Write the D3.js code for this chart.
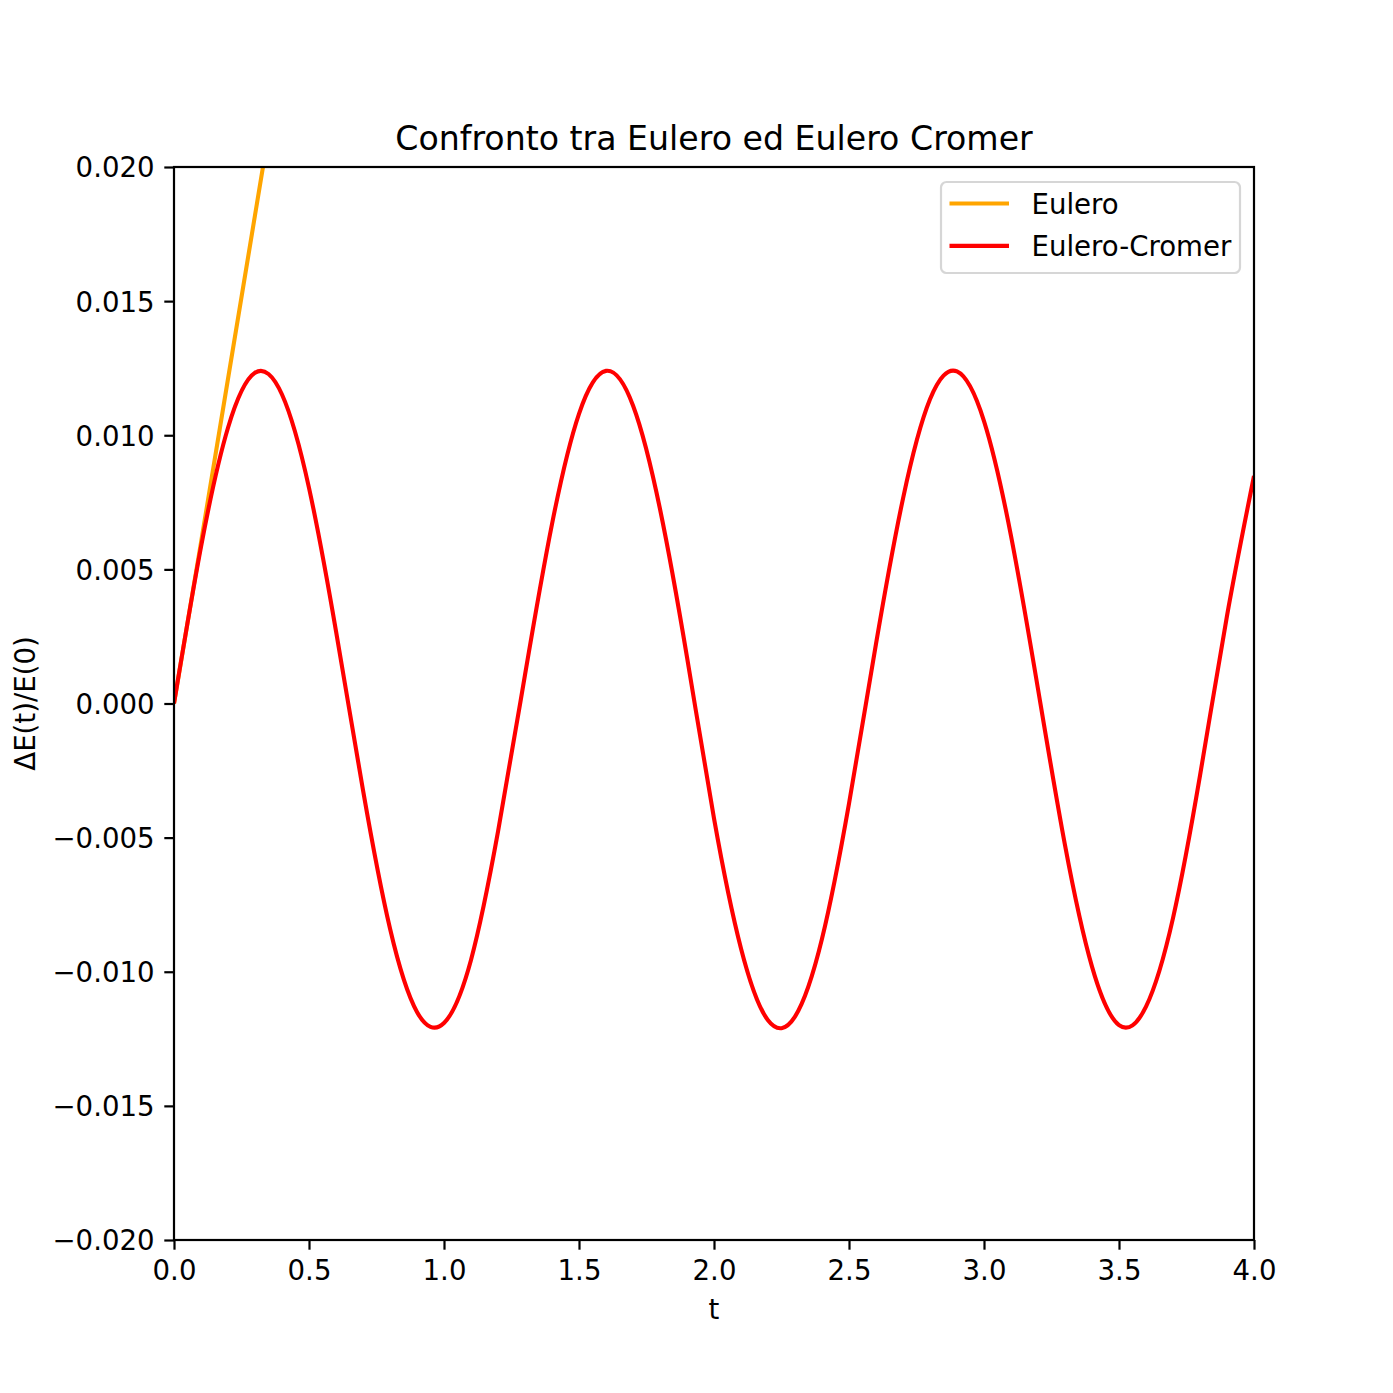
<!DOCTYPE html>
<html>
<head>
<meta charset="utf-8">
<script src="https://cdn.jsdelivr.net/npm/d3@7"></script>
<style>
  body { margin: 0; background: #fff; }
  text { font-family: "DejaVu Sans", sans-serif; fill: #000; }
</style>
</head>
<body>
<div id="chart"></div>
<script>
// time samples (s) and relative energy error
var tEC = [0.0, 0.1, 0.2, 0.3, 0.4, 0.5, 0.6, 0.7, 0.8, 0.9,
           1.0, 1.1, 1.2, 1.3, 1.4, 1.5, 1.6, 1.7, 1.8, 1.9,
           2.0, 2.1, 2.2, 2.3, 2.4, 2.5, 2.6, 2.7, 2.8, 2.9,
           3.0, 3.1, 3.2, 3.3, 3.4, 3.5, 3.6, 3.7, 3.8, 3.9, 4.0];
var eulCromer = [0.00000, 0.00584, 0.01028, 0.01233, 0.01152, 0.00804, 0.00270, -0.00323, -0.00839, -0.01150,
                 -0.01191, -0.00956, -0.00478, 0.00107, 0.00669, 0.01080, 0.01240, 0.01111, 0.00725, 0.00173,
                 -0.00428, -0.00913, -0.01181, -0.01167, -0.00877, -0.00373, 0.00222, 0.00764, 0.01134, 0.01238,
                 0.01053, 0.00625, 0.00054, -0.00528, -0.00981, -0.01199, -0.01130, -0.00800, -0.00269, 0.00327, 0.00848];

// Euler leaves the plot almost at once
var tE = [0.0, 0.1, 0.2, 0.3, 0.4];
var eulero = [0.0, 0.0060, 0.0121, 0.0182, 0.0243];

var xTicks = [0, 0.5, 1, 1.5, 2, 2.5, 3, 3.5, 4];
var yTicks = [-0.02, -0.015, -0.01, -0.005, 0, 0.005, 0.01, 0.015, 0.02];

var seriesNames = ["Eulero", "Eulero-Cromer"];
var seriesColors = ["orange", "red"];

var W = 1393, H = 1393;
var margin = {left: 174, right: 139, top: 167, bottom: 153};
var pw = W - margin.left - margin.right;
var ph = H - margin.top - margin.bottom;
var fs = 27.6;       // 10pt at ~199 dpi
var tick = 9.7, lw = 2.2;

var svg = d3.select("#chart").append("svg")
            .attr("width", W)
            .attr("height", H);

svg.append("rect").attr("width", W).attr("height", H).attr("fill", "#fff");

var x = d3.scaleLinear().domain([0, 4]).range([0, pw]);
var y = d3.scaleLinear().domain([-0.02, 0.02]).range([ph, 0]);

var g = svg.append("g").attr("transform", "translate(" + margin.left + "," + margin.top + ")");

g.append("clipPath").attr("id", "clip")
  .append("rect").attr("width", pw).attr("height", ph);

var line = d3.line()
             .x(function(d) { return x(d[0]); })
             .y(function(d) { return y(d[1]); });

var plot = g.append("g").attr("clip-path", "url(#clip)");

plot.append("path")
    .datum(d3.zip(tE, eulero))
    .attr("d", line)
    .attr("fill", "none")
    .attr("stroke", seriesColors[0])
    .attr("stroke-width", 4.1);

plot.append("path")
    .datum(d3.zip(tEC, eulCromer))
    .attr("d", line.curve(d3.curveNatural))
    .attr("fill", "none")
    .attr("stroke", seriesColors[1])
    .attr("stroke-width", 4.1)
    .attr("stroke-linejoin", "round");

// axes
var minus = function(s) { return s.replace("-", "\u2212"); };

var xAxis = d3.axisBottom(x)
              .tickValues(xTicks)
              .tickSize(tick)
              .tickPadding(9.7)
              .tickFormat(function(d) { return minus(d3.format(".1f")(d)); });

var yAxis = d3.axisLeft(y)
              .tickValues(yTicks)
              .tickSize(tick)
              .tickPadding(9.7)
              .tickFormat(function(d) { return minus(d3.format(".3f")(d)); });

var gx = g.append("g").attr("transform", "translate(0," + ph + ")").call(xAxis);
var gy = g.append("g").call(yAxis);

[gx, gy].forEach(function(a) {
    a.select(".domain").remove();
    a.selectAll(".tick line").attr("stroke", "#000").attr("stroke-width", lw);
    a.selectAll(".tick text")
     .attr("font-family", "DejaVu Sans")
     .attr("font-size", fs)
     .attr("fill", "#000");
});
gx.selectAll(".tick text").attr("dy", null).attr("y", tick + 9.7).attr("dominant-baseline", "hanging");
gy.selectAll(".tick text").attr("dy", "0.36em");

// frame
g.append("rect")
  .attr("width", pw)
  .attr("height", ph)
  .attr("fill", "none")
  .attr("stroke", "#000")
  .attr("stroke-width", lw);

// labels
svg.append("text")
   .attr("x", margin.left + pw / 2)
   .attr("y", 150)
   .attr("text-anchor", "middle")
   .attr("font-size", 33.2)
   .text("Confronto tra Eulero ed Eulero Cromer");

svg.append("text")
   .attr("x", margin.left + pw / 2)
   .attr("y", 1319)
   .attr("text-anchor", "middle")
   .attr("font-size", fs)
   .text("t");

svg.append("text")
   .attr("transform", "translate(35," + (margin.top + ph / 2) + ") rotate(-90)")
   .attr("text-anchor", "middle")
   .attr("font-size", fs)
   .text("\u0394E(t)/E(0)");

// legend
var leg = svg.append("g").attr("transform", "translate(941,182)");
leg.append("rect")
   .attr("width", 299)
   .attr("height", 91)
   .attr("rx", 5.5)
   .attr("fill", "#fff")
   .attr("fill-opacity", 0.8)
   .attr("stroke", "#d6d6d6")
   .attr("stroke-width", 2.2);

var item = leg.selectAll(".item")
              .data(seriesNames)
            .enter().append("g")
              .attr("class", "item")
              .attr("transform", function(d, i) { return "translate(0," + (21.5 + i * 42.4) + ")"; });

item.append("line")
    .attr("x1", 8.5).attr("x2", 68)
    .attr("stroke", function(d, i) { return seriesColors[i]; })
    .attr("stroke-width", 4.1);

item.append("text")
    .attr("x", 90.5)
    .attr("y", 10.5)
    .attr("font-size", fs)
    .text(function(d) { return d; });
</script>
</body>
</html>
